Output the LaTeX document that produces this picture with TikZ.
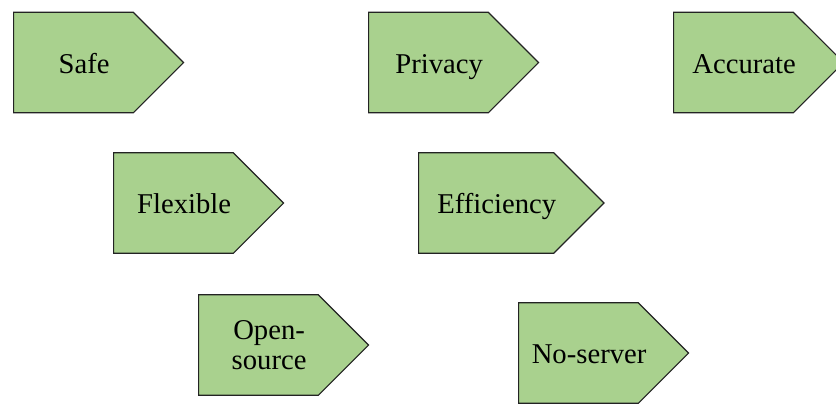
\documentclass[tikz,border=0pt]{standalone}
\usepackage{fontspec}
\setmainfont{LiberationSerif}[Extension=.ttf, UprightFont=*-Regular,
  BoldFont=*-Bold, ItalicFont=*-Italic, BoldItalicFont=*-BoldItalic]
\usetikzlibrary{shapes.symbols}
\definecolor{tagfill}{RGB}{169, 209, 142}
\definecolor{tagedge}{RGB}{35, 35, 35}
% Word-style inset: text sits a little right of the body centre
\newcommand{\tagline}[1]{\hspace*{16pt}\makebox[0pt]{#1}}

\begin{document}
\begin{tikzpicture}[x=0.75pt, y=-0.75pt,
  feature/.style={signal, signal to=east, signal pointer angle=90,
    draw=tagedge, line width=0.9pt, fill=tagfill, anchor=west,
    minimum width=127.5pt, minimum height=75.5pt, inner sep=0pt,
    text height=19pt, text depth=2.6pt,
    font=\fontsize{21.5}{23}\selectfont, align=center}]
\useasboundingbox (0,0) rectangle (836,405);

% Top row
\node[feature] (safe) at (13,62.5) {\tagline{Safe}};
\node[feature] (privacy) at (368,62.5) {\tagline{Privacy}};
\node[feature] (accurate) at (673,62.5) {\tagline{Accurate}};

% Middle row
\node[feature] (flexible) at (113,203) {\tagline{Flexible}};
\node[feature, minimum width=139pt] (efficiency) at (418,203) {\tagline{Efficiency}};

% Bottom row
\node[feature, text height={}, text depth={}] (opensource) at (198,345)
  {\tagline{Open-}\\\tagline{source}};
\node[feature] (noserver) at (518,353) {\tagline{No-server}};
\end{tikzpicture}
\end{document}
